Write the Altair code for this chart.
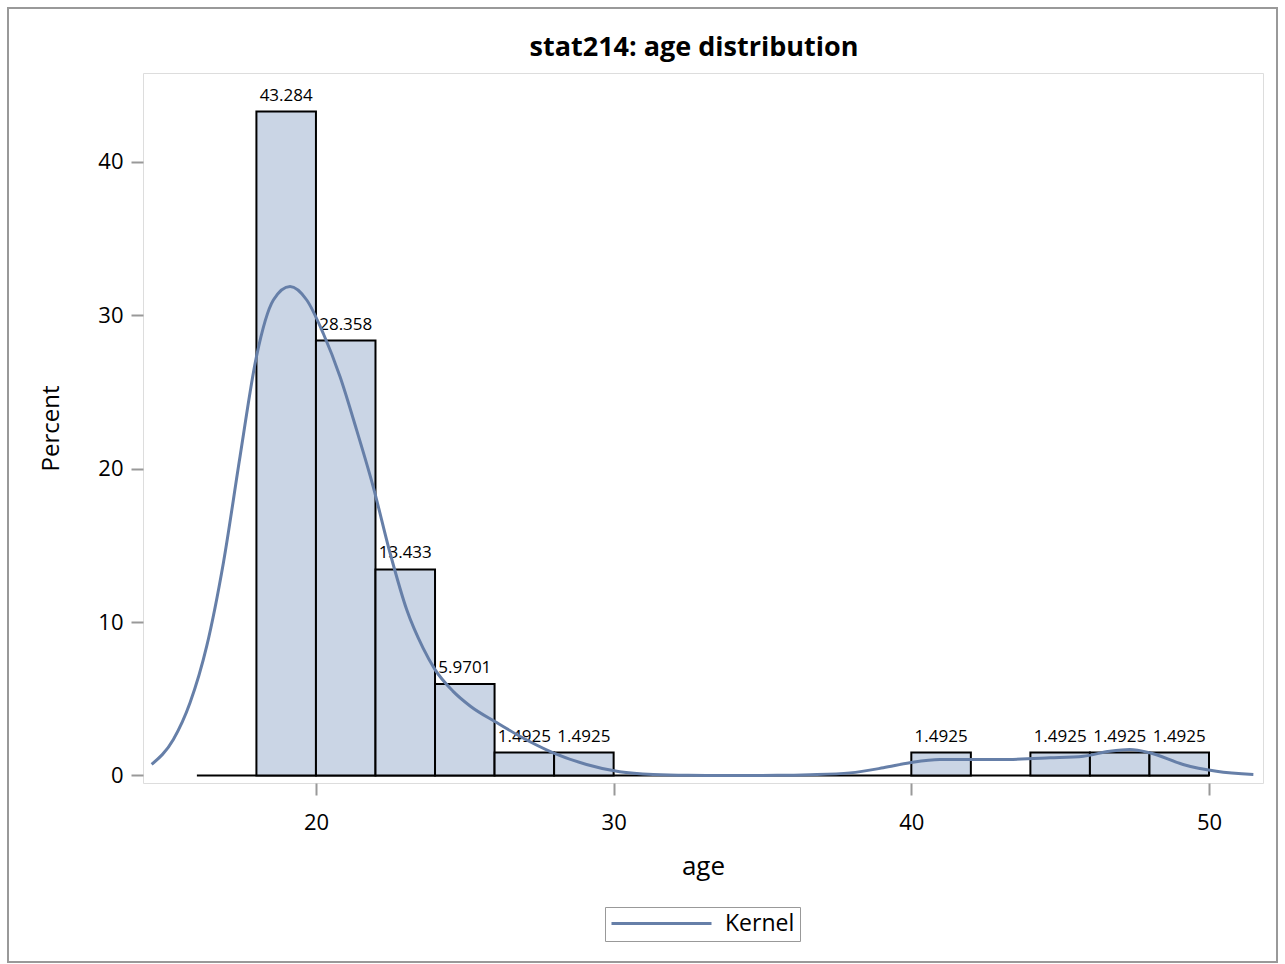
import altair as alt
import pandas as pd

# Histogram bins (width 2)
bin_start = [18, 20, 22, 24, 26, 28, 40, 44, 46, 48]
bin_width = 2
percent = [43.284, 28.358, 13.433, 5.9701, 1.4925, 1.4925, 1.4925, 1.4925, 1.4925, 1.4925]
bar_labels = ["43.284", "28.358", "13.433", "5.9701", "1.4925", "1.4925",
              "1.4925", "1.4925", "1.4925", "1.4925"]
hist_range = [16, 50]

# Kernel density curve
kernel_x = [14.48, 15.21, 15.77, 16.33, 16.89, 17.45, 18.0, 18.57, 19.13, 19.69,
            20.25, 20.81, 21.37, 21.92, 22.49, 23.05, 23.6, 24.0, 24.6, 25.2,
            26.07, 26.85, 27.97, 29.09, 30.2, 31.33, 32.5, 34.0, 35.5, 36.6,
            37.94, 39.06, 39.95, 40.96, 41.86, 42.98, 44.66, 45.78, 46.67, 47.34,
            48.01, 49.13, 50.25, 51.49]
kernel_y = [0.72, 2.35, 4.74, 8.43, 13.86, 20.8, 27.3, 31.0, 31.88, 31.0,
            28.8, 26.0, 22.5, 18.85, 14.5, 10.8, 8.3, 6.9, 5.5, 4.5,
            3.45, 2.56, 1.48, 0.72, 0.24, 0.06, 0.01, 0.0, 0.01, 0.05,
            0.17, 0.5, 0.83, 1.04, 1.04, 1.04, 1.15, 1.26, 1.58, 1.69,
            1.48, 0.72, 0.28, 0.07]

bars = pd.DataFrame({
    "start": bin_start,
    "end": [s + bin_width for s in bin_start],
    "mid": [s + bin_width / 2 for s in bin_start],
    "pct": percent,
    "label": bar_labels,
})
kern = pd.DataFrame({"age": kernel_x, "dens": kernel_y, "series": "Kernel"})
base_line = pd.DataFrame({"x": [hist_range[0]], "x2": [hist_range[1]], "y": [0]})

FONT = "Open Sans"
LINE = "#667FA8"
FILL = "#CAD5E5"
GRAY = "#999999"

xscale = alt.Scale(domain=[14.19, 51.814], nice=False, zero=False)
yscale = alt.Scale(domain=[-0.49, 45.8], nice=False, zero=False)

xaxis = alt.Axis(values=[20, 30, 40, 50], title="age", grid=False, domain=False,
                 tickColor=GRAY, tickSize=12, tickWidth=2, labelFontSize=22,
                 labelPadding=17, titleFontSize=26, titleFontWeight="normal",
                 titlePadding=20, labelColor="black", titleColor="black",
                 labelFont=FONT, titleFont=FONT)
yaxis = alt.Axis(values=[0, 10, 20, 30, 40], title="Percent", grid=False, domain=False,
                 tickColor=GRAY, tickSize=12, tickWidth=2, labelFontSize=22,
                 labelPadding=8, titleFontSize=24, titleFontWeight="normal",
                 titlePadding=34, labelColor="black", titleColor="black",
                 labelFont=FONT, titleFont=FONT)

zero = alt.Chart(base_line).mark_rule(color="black", strokeWidth=2).encode(
    x=alt.X("x:Q", scale=xscale, axis=xaxis),
    x2="x2:Q",
    y=alt.Y("y:Q", scale=yscale, axis=yaxis),
)

rects = alt.Chart(bars).mark_rect(fill=FILL, stroke="black", strokeWidth=2).encode(
    x=alt.X("start:Q", scale=xscale),
    x2="end:Q",
    y=alt.Y("pct:Q", scale=yscale),
    y2=alt.datum(0),
)

texts = alt.Chart(bars).mark_text(baseline="bottom", dy=-7, fontSize=17, font=FONT,
                                  color="black").encode(
    x=alt.X("mid:Q", scale=xscale),
    y=alt.Y("pct:Q", scale=yscale),
    text="label:N",
)

curve = alt.Chart(kern).mark_line(strokeWidth=3, interpolate="monotone").encode(
    x=alt.X("age:Q", scale=xscale),
    y=alt.Y("dens:Q", scale=yscale),
    color=alt.Color("series:N", scale=alt.Scale(range=[LINE]),
                    legend=alt.Legend(title=None, orient="none", legendX=462, legendY=834,
                                      symbolType="M-1,0L9,0", symbolSize=400,
                                      symbolStrokeWidth=3, labelFontSize=23,
                                      labelFont=FONT, labelColor="black",
                                      strokeColor=GRAY, padding=5,
                                      labelOffset=92)),
)

frame = alt.Chart(base_line).mark_rect(fill=None, stroke=GRAY, strokeWidth=2,
                                       clip=False).encode(
    x=alt.value(-135), x2=alt.value(1134), y=alt.value(-65), y2=alt.value(889)
)

chart = alt.layer(frame, zero, rects, texts, curve).properties(
    width=1120,
    height=710,
    title=alt.TitleParams("stat214: age distribution", fontSize=27, fontWeight="bold",
                          font=FONT, color="black", offset=14, anchor="middle",
                          frame="group", dx=-9, dy=69),
    padding={"left": 143, "top": 73, "right": 22, "bottom": 181},
    autosize=alt.AutoSizeParams(type="none"),
).configure_view(stroke=GRAY, strokeWidth=2).configure(background="white")

chart.save("out.html", embed_options={"renderer": "svg", "actions": False})
